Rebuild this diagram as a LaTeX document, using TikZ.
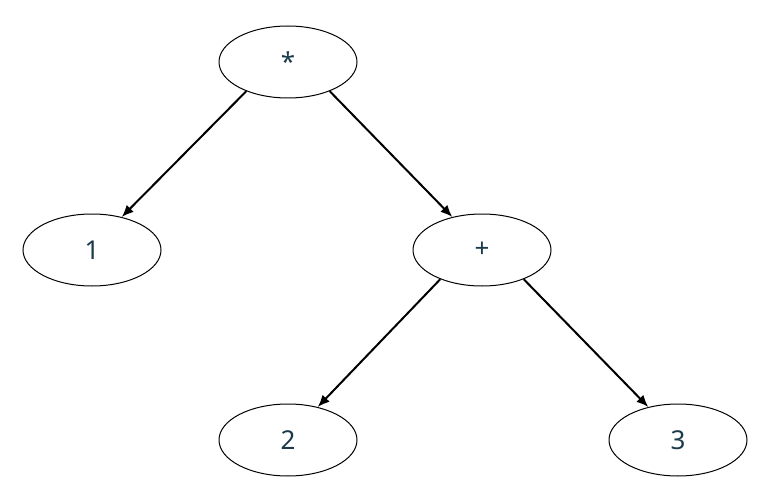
\documentclass[tikz,border=0pt]{standalone}
\usepackage{fontspec}
\setmainfont{Noto Sans}
\usetikzlibrary{shapes.geometric,arrows.meta}
\begin{document}
\begin{tikzpicture}[x=1pt,y=1pt,
  en/.style={draw,ellipse,line width=1pt,minimum width=138pt,minimum height=72pt,inner sep=0pt,text=txt,font=\fontsize{26}{30}\selectfont},
  ar/.style={line width=2pt,-{Latex[length=12pt,width=10pt]}}]
\definecolor{txt}{HTML}{1A3A4A}
\useasboundingbox (0,0) rectangle (782,499);
\node[en] (m) at (288,437) {*};
\node[en] (a) at (92,249) {1};
\node[en] (p) at (482,249) {+};
\node[en] (b) at (288,59) {2};
\node[en] (c) at (678,59) {3};
\draw[ar] (m.215) -- (a.48);
\draw[ar] (m.325) -- (p.132);
\draw[ar] (p.215) -- (b.48);
\draw[ar] (p.325) -- (c.132);
\end{tikzpicture}
\end{document}
